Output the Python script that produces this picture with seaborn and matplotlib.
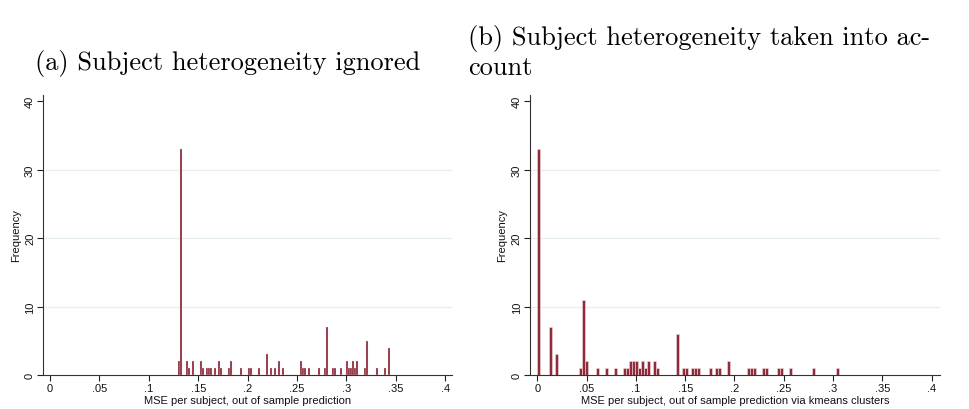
import numpy as np
import pandas as pd
import seaborn as sns
import matplotlib.pyplot as plt

# (a) MSE per subject, out of sample prediction: bin centres and frequencies
mse_a = [0.1306, 0.1326, 0.1387, 0.1407, 0.1448, 0.1529, 0.1549, 0.1590, 0.1610, 0.1630,
         0.1671, 0.1711, 0.1731, 0.1812, 0.1833, 0.1934, 0.2015, 0.2035, 0.2116, 0.2197,
         0.2238, 0.2278, 0.2319, 0.2359, 0.2541, 0.2562, 0.2582, 0.2622, 0.2724, 0.2784,
         0.2805, 0.2865, 0.2886, 0.2946, 0.3007, 0.3028, 0.3048, 0.3068, 0.3088, 0.3109,
         0.3189, 0.3210, 0.3311, 0.3392, 0.3432]
freq_a = [2, 33, 2, 1, 2, 2, 1, 1, 1, 1,
          1, 2, 1, 1, 2, 1, 1, 1, 1, 3,
          1, 1, 2, 1, 2, 1, 1, 1, 1, 1,
          7, 1, 1, 1, 2, 1, 1, 2, 1, 2,
          1, 5, 1, 1, 4]

# (b) MSE per subject via kmeans clusters
mse_b = [0.0015, 0.0135, 0.0195, 0.0435, 0.0465, 0.0495, 0.0615, 0.0705, 0.0795, 0.0885,
         0.0915, 0.0945, 0.0975, 0.1005, 0.1035, 0.1065, 0.1095, 0.1125, 0.1185, 0.1215,
         0.1425, 0.1485, 0.1515, 0.1575, 0.1605, 0.1635, 0.1755, 0.1815, 0.1845, 0.1935,
         0.2145, 0.2175, 0.2205, 0.2295, 0.2325, 0.2445, 0.2475, 0.2565, 0.2805, 0.3045]
freq_b = [33, 7, 3, 1, 11, 2, 1, 1, 1, 1,
          1, 2, 2, 2, 1, 2, 1, 2, 2, 1,
          6, 1, 1, 1, 1, 1, 1, 1, 1, 2,
          1, 1, 1, 1, 1, 1, 1, 1, 1, 1]

x_ticks = [0, 0.05, 0.1, 0.15, 0.2, 0.25, 0.3, 0.35, 0.4]
x_ticklabels = ["0", ".05", ".1", ".15", ".2", ".25", ".3", ".35", ".4"]
y_ticks = [0, 10, 20, 30, 40]

sns.set_theme(style="white")
plt.rcParams['font.family'] = ['Liberation Sans', 'DejaVu Sans']

bar_col = "#8e2c3a"
fig = plt.figure(figsize=(9.69, 4.10), dpi=100)
ax1 = fig.add_axes([0.0447, 0.0829, 0.4218, 0.683])
ax2 = fig.add_axes([0.547, 0.0829, 0.423, 0.683])

df_a = pd.DataFrame({"mse": mse_a, "freq": freq_a})
df_b = pd.DataFrame({"mse": mse_b, "freq": freq_b})

bins_a = list(np.arange(0.1296, 0.35, 0.002025))
bins_b = list(np.arange(0.0, 0.31, 0.003))
sns.histplot(data=df_a, x="mse", weights="freq", bins=bins_a,
             color=bar_col, alpha=1, edgecolor="#f1dde0", linewidth=0.2, ax=ax1)
sns.histplot(data=df_b, x="mse", weights="freq", bins=bins_b,
             color=bar_col, alpha=1, edgecolor="#f1dde0", linewidth=0.4, ax=ax2)

xlabels = ["MSE per subject, out of sample prediction",
           "MSE per subject, out of sample prediction via kmeans clusters"]
xlims = [(-0.0068, 0.407), (-0.0074, 0.4084)]
for ax, xl, lim in zip([ax1, ax2], xlabels, xlims):
    ax.set_xlim(*lim)
    ax.set_ylim(0, 40.9)
    ax.set_xticks(x_ticks)
    ax.set_xticklabels(x_ticklabels)
    ax.set_yticks(y_ticks)
    ax.set_yticklabels([str(t) for t in y_ticks], rotation=90, va="center")
    ax.tick_params(axis="both", direction="out", length=4, width=0.8, color="#222222",
                   labelsize=8, labelcolor="#111111", pad=2, bottom=True, left=True)
    ax.set_xlabel(xl, fontsize=8, labelpad=1, color="#111111")
    ax.set_ylabel("Frequency", fontsize=8, labelpad=3, color="#111111")
    sns.despine(ax=ax)
    for s in ["left", "bottom"]:
        ax.spines[s].set_color("#333333")
        ax.spines[s].set_linewidth(0.8)
    ax.grid(axis="y", color="#e6eef1", linewidth=0.9)
    ax.set_axisbelow(True)
    gl = ax.get_ygridlines()
    gl[0].set_visible(False)
    gl[-1].set_visible(False)

fig.text(0.235, 0.845, "(a) Subject heterogeneity ignored", family="cmr10",
         fontsize=19, ha="center", va="center", color="black")
fig.text(0.483, 0.872, "(b) Subject heterogeneity taken into ac-\ncount", family="cmr10",
         fontsize=19, ha="left", va="center", linespacing=1.25, color="black")

fig.savefig("out.png", dpi=100)
